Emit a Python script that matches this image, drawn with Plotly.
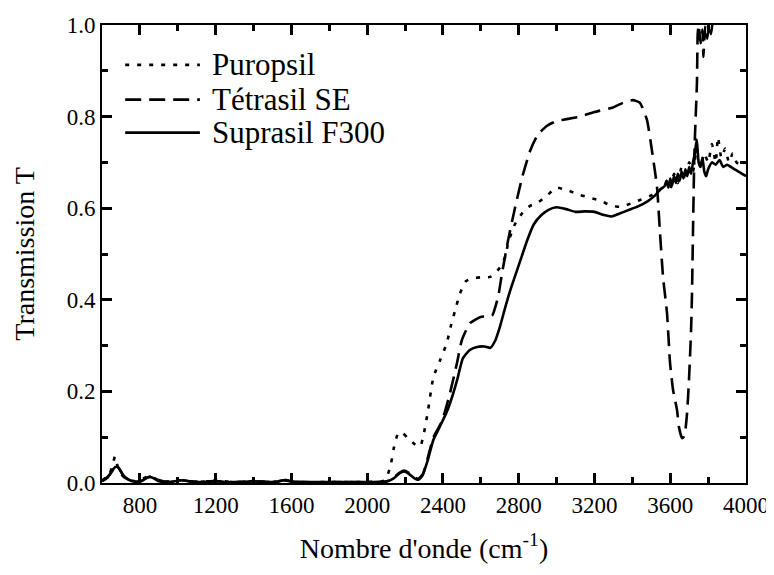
import plotly.graph_objects as go

# ---- data ----
sup_x = [600, 630, 650, 670, 685, 700, 720, 760, 800, 830, 850, 870, 900, 950, 1000, 1030, 1070, 1150, 1200, 1250,
         1350, 1400, 1450, 1530, 1560, 1600, 1700, 1800, 1900, 2000, 2100, 2140, 2170, 2195, 2220, 2250, 2270, 2290,
         2320, 2350, 2380, 2420, 2450, 2475, 2505, 2540, 2580, 2620, 2650, 2675, 2700, 2730, 2755, 2800, 2845, 2880,
         2920, 2960, 3000, 3050, 3100, 3150, 3200, 3250, 3290, 3330, 3380, 3430, 3480, 3520, 3550, 3570, 3580, 3590,
         3600, 3610, 3620, 3630, 3640, 3650, 3660, 3670, 3680, 3690, 3700, 3710, 3720, 3730, 3740, 3750, 3760, 3770,
         3780, 3790, 3800, 3820, 3840, 3860, 3880, 3900, 3920, 3940, 3960, 3980, 4000]
sup_y = [0.004, 0.012, 0.025, 0.035, 0.034, 0.025, 0.012, 0.004, 0.003, 0.010, 0.013, 0.011, 0.004, 0.002, 0.005,
         0.006, 0.003, 0.002, 0.004, 0.002, 0.002, 0.004, 0.002, 0.003, 0.006, 0.003, 0.002, 0.002, 0.002, 0.002,
         0.003, 0.010, 0.021, 0.025, 0.020, 0.010, 0.007, 0.015, 0.050, 0.095, 0.120, 0.155, 0.190, 0.225, 0.272,
         0.290, 0.297, 0.298, 0.295, 0.310, 0.340, 0.385, 0.420, 0.475, 0.530, 0.565, 0.585, 0.597, 0.602, 0.598,
         0.592, 0.593, 0.592, 0.585, 0.582, 0.588, 0.596, 0.604, 0.615, 0.628, 0.642, 0.648, 0.660, 0.645, 0.665,
         0.650, 0.670, 0.655, 0.675, 0.660, 0.680, 0.665, 0.685, 0.670, 0.690, 0.675, 0.700, 0.720, 0.750, 0.700,
         0.690, 0.710, 0.680, 0.670, 0.685, 0.700, 0.695, 0.705, 0.690, 0.695, 0.690, 0.685, 0.680, 0.675, 0.670]

pur_x = [600, 640, 660, 668, 680, 700, 730, 780, 830, 850, 880, 920, 1000, 1040, 1100, 1200, 1300, 1400, 1500, 1560,
         1620, 1800, 2000, 2090, 2110, 2125, 2140, 2165, 2190, 2215, 2250, 2280, 2300, 2320, 2350, 2385, 2420, 2440,
         2465, 2490, 2520, 2555, 2600, 2650, 2675, 2700, 2730, 2745, 2780, 2820, 2860, 2900, 2950, 3000, 3050, 3124,
         3180, 3230, 3280, 3335, 3390, 3440, 3500, 3530, 3560, 3580, 3600, 3620, 3640, 3660, 3680, 3700, 3720, 3740,
         3760, 3780, 3800, 3820, 3840, 3852, 3870, 3890, 3910, 3930, 3950, 3970, 4000]
pur_y = [0.005, 0.020, 0.045, 0.058, 0.040, 0.020, 0.008, 0.004, 0.012, 0.016, 0.010, 0.003, 0.006, 0.005, 0.002,
         0.005, 0.002, 0.004, 0.002, 0.007, 0.002, 0.002, 0.002, 0.005, 0.020, 0.040, 0.075, 0.110, 0.108, 0.098,
         0.085, 0.080, 0.110, 0.155, 0.232, 0.268, 0.305, 0.340, 0.378, 0.414, 0.440, 0.447, 0.449, 0.450, 0.458,
         0.470, 0.495, 0.526, 0.565, 0.590, 0.605, 0.612, 0.628, 0.645, 0.640, 0.629, 0.622, 0.617, 0.607, 0.603,
         0.610, 0.618, 0.628, 0.636, 0.645, 0.660, 0.640, 0.675, 0.655, 0.690, 0.660, 0.700, 0.680, 0.730, 0.690,
         0.720, 0.700, 0.740, 0.700, 0.755, 0.710, 0.730, 0.700, 0.720, 0.700, 0.695, 0.700]

tet_x = [600, 640, 660, 675, 690, 710, 750, 800, 840, 860, 890, 950, 1020, 1080, 1200, 1300, 1400, 1500, 1560, 1650,
         1900, 2100, 2140, 2170, 2195, 2220, 2250, 2270, 2295, 2320, 2350, 2395, 2437, 2474, 2500, 2543, 2596, 2630,
         2659, 2691, 2712, 2744, 2780, 2820, 2860, 2900, 2950, 3000, 3060, 3124, 3200, 3298, 3350, 3403, 3440, 3477,
         3503, 3530, 3546, 3562, 3583, 3599, 3615, 3636, 3646, 3662, 3670, 3678, 3689, 3699, 3710, 3715, 3720, 3726,
         3731, 3741, 3745, 3750, 3760, 3770, 3775, 3785, 3795, 3805, 3815, 3825, 3840, 3870, 3900, 3950, 4000]
tet_y = [0.004, 0.018, 0.030, 0.038, 0.032, 0.018, 0.005, 0.003, 0.012, 0.014, 0.008, 0.002, 0.006, 0.003, 0.004,
         0.002, 0.004, 0.002, 0.006, 0.002, 0.002, 0.003, 0.012, 0.022, 0.027, 0.022, 0.012, 0.009, 0.020, 0.055,
         0.100, 0.135, 0.196, 0.262, 0.312, 0.349, 0.362, 0.364, 0.365, 0.406, 0.458, 0.530, 0.600, 0.670, 0.725,
         0.760, 0.780, 0.790, 0.795, 0.800, 0.810, 0.820, 0.830, 0.836, 0.830, 0.793, 0.727, 0.647, 0.546, 0.450,
         0.371, 0.262, 0.203, 0.159, 0.122, 0.098, 0.100, 0.109, 0.153, 0.225, 0.334, 0.415, 0.546, 0.690, 0.764,
         0.873, 0.980, 1.000, 0.960, 0.990, 0.930, 1.000, 0.970, 1.000, 0.980, 1.010, 1.040, 1.080, 1.100, 1.120, 1.140]

x_major = [800, 1200, 1600, 2000, 2400, 2800, 3200, 3600, 4000]
y_major = [0.0, 0.2, 0.4, 0.6, 0.8, 1.0]

series_names = ["Puropsil", "Tétrasil SE", "Suprasil F300"]
series_dash = ["4px,8px", "16px,8px", "solid"]

FONT = '"Liberation Serif", "Times New Roman", Times, serif'
BLACK = "#000000"

fig = go.Figure()
for name, xs, ys, dash in zip(series_names, [pur_x, tet_x, sup_x], [pur_y, tet_y, sup_y], series_dash):
    fig.add_trace(go.Scatter(x=xs, y=ys, mode="lines", name=name, showlegend=False,
                             line=dict(color=BLACK, width=2.6, dash=dash, shape="spline", smoothing=0.5)))

# hand-drawn legend (tight row spacing like the original)
leg_y = [0.913, 0.837, 0.765]
for name, dash, yy in zip(series_names, series_dash, leg_y):
    fig.add_shape(type="line", xref="paper", yref="paper", x0=0.036, x1=0.152, y0=yy, y1=yy,
                  line=dict(color=BLACK, width=2.6, dash=dash), opacity=1)
    fig.add_annotation(xref="paper", yref="paper", x=0.168, y=yy, text=name, showarrow=False,
                       xanchor="left", yanchor="middle", font=dict(family=FONT, size=31, color=BLACK))

fig.update_xaxes(range=[600, 4000], tickmode="array", tickvals=x_major, ticktext=[str(v) for v in x_major],
                 showline=True, linecolor=BLACK, linewidth=2, mirror="ticks",
                 ticks="inside", ticklen=10, tickwidth=2.5, tickcolor=BLACK,
                 minor=dict(ticks="inside", tickmode="linear", tick0=600, dtick=200, ticklen=6,
                            tickwidth=2.5, tickcolor=BLACK, showgrid=False),
                 showgrid=False, zeroline=False, automargin=False,
                 tickfont=dict(family=FONT, size=23, color=BLACK),
                 title=dict(text="Nombre d'onde (cm<sup>-1</sup>)", font=dict(family=FONT, size=28, color=BLACK),
                            standoff=22))
fig.update_yaxes(range=[0, 1], tickmode="array", tickvals=y_major, ticktext=[f"{v:.1f}" for v in y_major],
                 showline=True, linecolor=BLACK, linewidth=2, mirror="ticks",
                 ticks="inside", ticklen=10, tickwidth=2.5, tickcolor=BLACK,
                 minor=dict(ticks="inside", tickmode="linear", tick0=0, dtick=0.1, ticklen=6,
                            tickwidth=2.5, tickcolor=BLACK, showgrid=False),
                 showgrid=False, zeroline=False, automargin=False,
                 tickfont=dict(family=FONT, size=23, color=BLACK),
                 title=dict(text="Transmission T", font=dict(family=FONT, size=28, color=BLACK), standoff=24))

fig.update_layout(
    width=774, height=575,
    margin=dict(l=94, r=36, t=17, b=100),
    paper_bgcolor="white", plot_bgcolor="white",
    showlegend=False,
    font=dict(family=FONT, color=BLACK),
)

fig.write_html("out.html")
